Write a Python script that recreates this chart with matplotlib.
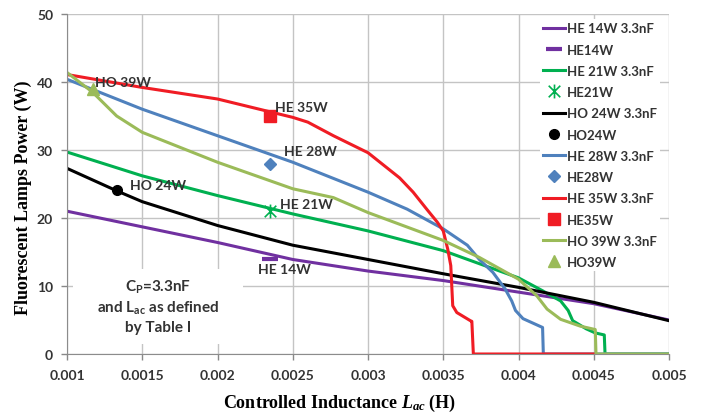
import matplotlib.pyplot as plt
import matplotlib.patches as mpatches
from matplotlib.path import Path

plt.rcParams['font.family'] = ['Lato', 'DejaVu Sans']
plt.rcParams['font.weight'] = 'bold'
plt.rcParams['mathtext.fontset'] = 'custom'
plt.rcParams['mathtext.it'] = 'Liberation Serif:bold:italic'
plt.rcParams['mathtext.rm'] = 'Liberation Serif:bold'
plt.rcParams['mathtext.sf'] = 'Lato:bold'

# simulated curves, Cp = 3.3nF
he14_x = [0.001, 0.0015, 0.002, 0.0025, 0.003, 0.0035, 0.004, 0.0045, 0.005]
he14_y = [21.0, 18.7, 16.4, 13.9, 12.2, 10.8, 9.1, 7.4, 5.0]

he21_x = [0.001, 0.0015, 0.002, 0.0025, 0.003, 0.0035, 0.0038, 0.004, 0.00416,
          0.00428, 0.00433, 0.00436, 0.00445, 0.00451, 0.00457, 0.004575, 0.005]
he21_y = [29.7, 26.2, 23.3, 20.6, 18.1, 15.2, 12.8, 11.2, 9.3,
          7.8, 6.4, 4.9, 3.7, 3.1, 2.8, 0, 0]

ho24_x = [0.001, 0.00133, 0.0015, 0.002, 0.0025, 0.003, 0.0035, 0.004, 0.0045, 0.005]
ho24_y = [27.3, 24.0, 22.4, 18.9, 16.0, 13.9, 11.8, 9.8, 7.6, 4.9]

he28_x = [0.001, 0.0015, 0.002, 0.0025, 0.003, 0.00326, 0.0035, 0.00366, 0.00374,
          0.00383, 0.00391, 0.003955, 0.00398, 0.00403, 0.00414, 0.00416, 0.004165, 0.005]
he28_y = [40.4, 36.0, 32.1, 28.2, 23.8, 21.3, 18.4, 16.0, 13.9,
          12.0, 9.6, 7.8, 6.4, 5.2, 4.1, 3.9, 0, 0]

he35_x = [0.001, 0.0015, 0.002, 0.0025, 0.0026, 0.00277, 0.003, 0.00321, 0.0033,
          0.00339, 0.00346, 0.0035, 0.00353, 0.00355, 0.003563, 0.00359, 0.00368,
          0.00369, 0.0037, 0.0045]
he35_y = [41.1, 39.2, 37.5, 34.8, 34.1, 32.1, 29.6, 25.9, 23.8,
          21.3, 19.4, 18.1, 15.4, 13.0, 7.1, 6.1, 4.9,
          4.8, 0, 0]

ho39_x = [0.001, 0.00117, 0.00133, 0.0015, 0.002, 0.0025, 0.00277, 0.003, 0.0035,
          0.00374, 0.004, 0.00412, 0.00419, 0.00428, 0.00441, 0.00451, 0.004515, 0.005]
ho39_y = [41.4, 38.5, 35.0, 32.6, 28.2, 24.3, 23.0, 20.8, 16.7,
          14.2, 11.0, 8.6, 6.6, 5.1, 4.1, 3.6, 0, 0]

# measured points
meas_names = ['HE14W', 'HE21W', 'HO24W', 'HE28W', 'HE35W', 'HO39W']
meas_x = [0.00235, 0.00235, 0.00133, 0.00235, 0.00235, 0.00117]
meas_y = [14.0, 21.1, 24.1, 28.0, 35.0, 39.0]

xticks = [0.001, 0.0015, 0.002, 0.0025, 0.003, 0.0035, 0.004, 0.0045, 0.005]
xtick_labels = ['0.001', '0.0015', '0.002', '0.0025', '0.003', '0.0035', '0.004', '0.0045', '0.005']
yticks = [0, 10, 20, 30, 40, 50]

c_purple = '#7030A0'
c_green = '#00B050'
c_blue = '#4F81BD'
c_red = '#F01C24'
c_olive = '#9BBB59'

# Excel-style star marker: X with a vertical bar
star = Path([(-1, -1), (1, 1), (-1, 1), (1, -1), (0, -1.2), (0, 1.2)],
            [Path.MOVETO, Path.LINETO, Path.MOVETO, Path.LINETO, Path.MOVETO, Path.LINETO])

fig = plt.figure(figsize=(7.03, 4.14), dpi=100)
ax = fig.add_axes([67 / 703, 59 / 414, 602 / 703, 340 / 414])

lw = 2.2
ax.plot(he14_x, he14_y, color=c_purple, lw=lw, label='HE 14W 3.3nF')
ax.plot(meas_x[0], meas_y[0], ls='none', marker='_', ms=12, mew=3, color=c_purple, label=meas_names[0])
ax.plot(he21_x, he21_y, color=c_green, lw=lw, label='HE 21W 3.3nF')
ax.plot(meas_x[1], meas_y[1], ls='none', marker=star, ms=10, mew=1.2, mec=c_green, mfc='none', label=meas_names[1])
ax.plot(ho24_x, ho24_y, color='black', lw=lw, label='HO 24W 3.3nF')
ax.plot(meas_x[2], meas_y[2], ls='none', marker='o', ms=7, color='black', label=meas_names[2])
ax.plot(he28_x, he28_y, color=c_blue, lw=lw, label='HE 28W 3.3nF')
ax.plot(meas_x[3], meas_y[3], ls='none', marker='D', ms=6, color=c_blue, label=meas_names[3])
ax.plot(he35_x, he35_y, color=c_red, lw=lw, label='HE 35W 3.3nF')
ax.plot(meas_x[4], meas_y[4], ls='none', marker='s', ms=8, color=c_red, label=meas_names[4])
ax.plot(ho39_x, ho39_y, color=c_olive, lw=lw, label='HO 39W 3.3nF')
ax.plot(meas_x[5], meas_y[5], ls='none', marker='^', ms=8, color=c_olive, label=meas_names[5])

# point labels
ann_fs = 10
ax.text(0.001186, 40.0, 'HO 39W', fontsize=ann_fs, va='center', color='#333333')
ax.text(0.002382, 36.3, 'HE 35W', fontsize=ann_fs, va='center', color='#333333')
ax.text(0.002442, 29.85, 'HE 28W', fontsize=ann_fs, va='center', color='#333333')
ax.text(0.001419, 24.85, 'HO 24W', fontsize=ann_fs, va='center', color='#333333')
ax.text(0.002415, 22.06, 'HE 21W', fontsize=ann_fs, va='center', color='#333333')
ax.text(0.002269, 12.5, 'HE 14W', fontsize=ann_fs, va='center', color='#333333')

# condition note
ax.add_patch(mpatches.Rectangle((0.01, 0.029), 0.282, 0.221, transform=ax.transAxes,
                                facecolor='white', edgecolor='none', zorder=1))
ax.text(0.151, 0.142, 'C$_\\mathsf{P}$=3.3nF\nand L$_\\mathsf{ac}$ as defined\nby Table I',
        transform=ax.transAxes, fontsize=11, ha='center', va='center',
        linespacing=1.35, color='#333333', zorder=2)

ax.set_xlim(0.001, 0.005)
ax.set_ylim(0, 50)
ax.set_xticks(xticks)
ax.set_xticklabels(xtick_labels)
ax.set_yticks(yticks)
ax.tick_params(labelsize=10, colors='#888888', labelcolor='#333333', length=4, width=1, pad=6)
ax.tick_params(axis='x', pad=7)
ax.grid(True, color='#C4C4C4', lw=1)
ax.set_axisbelow(True)
for side in ['top', 'right']:
    ax.spines[side].set_visible(False)
for side in ['left', 'bottom']:
    ax.spines[side].set_color('#8C8C8C')

ax.set_xlabel('Controlled Inductance $L_{ac}$ (H)', fontsize=13, family='Liberation Serif',
              fontweight='bold', va='top')
ax.xaxis.set_label_coords(0.4535, -0.112)
ax.set_ylabel('Fluorescent Lamps Power (W)', fontsize=13, family='Liberation Serif',
              fontweight='bold')
ax.yaxis.set_label_coords(-0.058, 0.462)

leg = ax.legend(loc='upper left', bbox_to_anchor=(0.786, 0.985), fontsize=9.5,
                frameon=True, fancybox=False, edgecolor='none', facecolor='white',
                framealpha=1, handlelength=1.6, handletextpad=0.15, labelspacing=0.7,
                borderpad=0.25, borderaxespad=0)
for t in leg.get_texts():
    t.set_color('#333333')

fig.savefig('out.png', dpi=100)
